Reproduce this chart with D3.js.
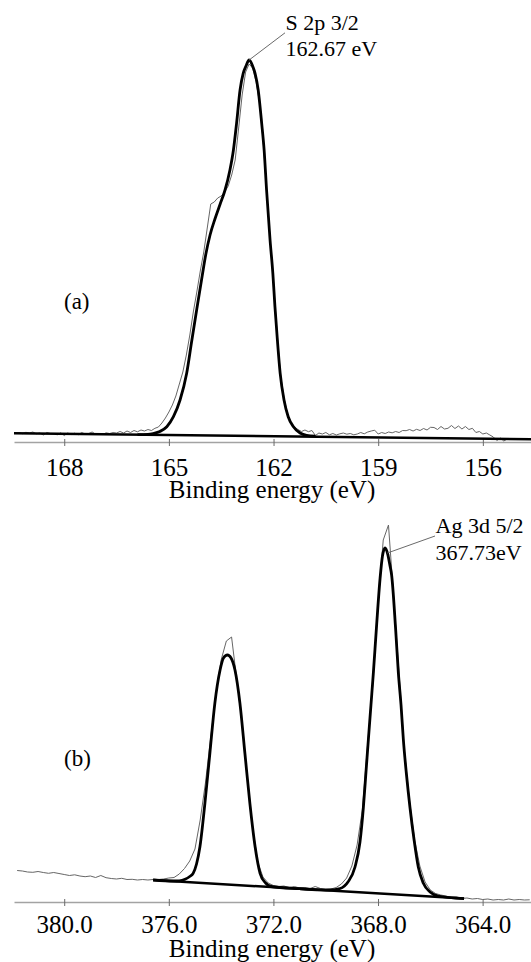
<!DOCTYPE html>
<html>
<head>
<meta charset="utf-8">
<script src="https://cdn.jsdelivr.net/npm/d3@7"></script>
<style>
  body { margin: 0; background: #fff; }
  svg { display: block; }
  svg text { font-family: "Liberation Serif", "Times New Roman", serif; }
</style>
</head>
<body>
<div class="layout"></div>
<script>
// ---- (a) S 2p region ----
// scan: start energy and step (eV), raw intensity (a.u.)
var sStart = 169.4, sStep = -0.1;
var sRaw = [
  8.5, 9.3, 8.3, 9.7, 9, 10, 8.2, 9, 7, 9.5,
  8.5, 8.2, 7.2, 9.2, 6.5, 9, 7.5, 8.8, 7.2, 9.5,
  8, 8.5, 10, 7.8, 8.2, 7.5, 9.2, 8.5, 9.5, 9,
  10.5, 9, 11, 9.5, 11.5, 10.2, 12, 11, 12.5, 11.5,
  13.7, 15, 19, 24, 30, 37, 46, 58, 70, 87,
  107, 130, 150, 171, 190, 214, 238, 240, 244, 246,
  250, 256, 267, 282, 314, 347, 370, 378, 374, 360,
  339, 302, 252, 204, 157, 110, 67, 44, 28, 19,
  15, 12.5, 10.5, 12, 10.3, 11.5, 6.5, 9, 8, 9.5,
  7.2, 8.5, 7, 8.2, 9, 7.8, 8.5, 7.2, 8, 9.5,
  8.2, 10, 11, 11.8, 8, 9.5, 8.5, 10, 9.2, 10.5,
  9.5, 11.5, 11.3, 12.5, 11, 12.7, 11.5, 13.5, 12, 14.7,
  14.5, 12.5, 15.5, 13, 13.7, 16.5, 13.5, 16, 13, 15.5,
  12.5, 13.7, 9.5, 10.5, 8, 9, 7, 5, 1.5, 4,
  1, 3, 2.7, 3.5, 2.5, 2.8, 3, 2.7, 2.7
];
// fitted envelope
var sFitE = [165.9, 165.6, 165.45, 165.26, 165.06, 164.87, 164.68, 164.49, 164.35, 164.20,
  164.06, 163.94, 163.82, 163.68, 163.53, 163.39, 163.25, 163.15, 163.06, 162.96,
  162.87, 162.79, 162.70, 162.60, 162.53, 162.44, 162.34, 162.27, 162.20, 162.10,
  162.02, 161.96, 161.89, 161.81, 161.70, 161.58, 161.43, 161.24, 161.05, 160.8];
var sFitI = [7.3, 7.6, 8.5, 10.5, 15.3, 25.3, 42, 68.7, 100, 133,
  163, 188, 207, 223, 238, 252, 272, 292, 318.7, 352,
  368.7, 376, 382, 376, 368.7, 352, 318.7, 292, 252, 202,
  168.7, 135.3, 102, 68.7, 42, 25.3, 15.3, 9, 6.6, 5.9];
var sBgE = [169.44, 154.62];
var sBgI = [8.7, 2.7];
var sDomain = [169.44, 154.62];
var sTicks = [168, 165, 162, 159, 156];
var sLabel = ["S 2p 3/2", "162.67 eV"];
var sPeakE = 162.70, sPeakI = 382;

// ---- (b) Ag 3d region ----
var aStart = 381.8, aStep = -0.2;
var aRaw = [
  31.5, 31, 30, 29.7, 30.5, 29.5, 28.7, 29.5, 28.5, 27.5,
  26.5, 27.2, 26, 25.3, 26, 24.5, 26.5, 24.3, 23.5, 23,
  23.7, 22.5, 22.7, 22, 22.5, 22, 22.5, 22.5, 23, 24,
  24.5, 28, 33.5, 41, 53, 82, 119, 164, 207, 242,
  261, 265, 222, 180, 126, 76, 40, 25, 19, 16.5,
  15.5, 16, 14.5, 15.5, 14, 14.5, 13.5, 15.5, 13.5, 12.5,
  13, 14.5, 18, 24, 36, 57, 92, 157, 217, 297,
  362, 377, 304, 230, 154, 102, 62, 36, 20, 12,
  8.5, 7, 6, 4.5, 5, 3.5, 4, 3, 3.5, 2.5,
  3, 2, 2.5, 2, 3, 2, 2.5, 2, 2.2
];
var aFitE = [376.60, 375.8, 375.6, 375.38, 375.2, 375.07, 374.94, 374.81, 374.62, 374.43,
  374.24, 374.04, 373.91, 373.76, 373.62, 373.47, 373.28, 373.09, 372.90, 372.70,
  372.51, 372.30, 372.09, 371.0, 370.2, 369.84, 369.45, 369.15, 368.88, 368.69,
  368.56, 368.46, 368.37, 368.27, 368.18, 368.06, 367.92, 367.83, 367.73, 367.64,
  367.54, 367.48, 367.33, 367.22, 367.12, 367.03, 366.91, 366.78, 366.62, 366.46,
  366.27, 366.01, 365.70, 364.71];
var aFitI = [22, 21, 21.2, 22.7, 25.5, 28.7, 38, 55.3, 98.7, 148.7,
  198.7, 232, 244, 247, 244, 232, 198.7, 148.7, 98.7, 55.3,
  28.7, 19, 15.5, 13.3, 12.2, 12, 13.5, 20, 35, 60,
  94.7, 130, 162, 197, 228.3, 274.3, 324, 346, 354, 349,
  336, 327, 274.3, 228.3, 197, 162, 127, 95, 62, 35,
  19, 10, 6, 3.4];
var aBgE = [376.60, 364.71];
var aBgI = [22, 3.4];
var aDomain = [381.92, 362.15];
var aTicks = [380, 376, 372, 368, 364];
var aLabel = ["Ag 3d 5/2", "367.73eV"];
var aPeakE = 367.64, aPeakI = 349;

var xTitle = "Binding energy (eV)";

var width = 531, height = 962;
var serif = "Liberation Serif, Times New Roman, serif";

var svg = d3.select(".layout").append("svg")
    .attr("width", width)
    .attr("height", height);

function pairs(es, is) {
  return es.map(function(e, i) { return [e, is[i]]; });
}

function scan(start, step, vals) {
  return vals.map(function(v, i) { return [+(start + i * step).toFixed(2), v]; });
}

function panel(p) {
  var x = d3.scaleLinear().domain(p.domain).range([14, 531]);
  var y = d3.scaleLinear().domain([0, 400]).range([p.axisY, p.axisY - 400]);

  var rawLine = d3.line()
      .x(function(d) { return x(d[0]); })
      .y(function(d) { return y(d[1]); });

  var fitLine = d3.line()
      .curve(d3.curveMonotoneX)
      .x(function(d) { return x(d[0]); })
      .y(function(d) { return y(d[1]); });

  var g = svg.append("g");

  // axis
  var axis = d3.axisBottom(x)
      .tickValues(p.ticks)
      .tickFormat(p.fmt)
      .tickSizeOuter(0)
      .tickSizeInner(4);

  var gx = g.append("g")
      .attr("transform", "translate(0," + p.axisY + ")")
      .call(axis)
      .attr("font-family", serif);
  gx.select(".domain").attr("stroke", "#a3a3a3").attr("stroke-width", 1.6);
  gx.selectAll(".tick line").attr("y1", -3).attr("stroke", "#6a6a6a");
  gx.selectAll(".tick text")
      .attr("y", p.tickBase)
      .attr("dy", null)
      .attr("fill", "#000")
      .style("font-size", "25px");

  g.append("text")
      .attr("x", 272)
      .attr("y", p.titleY)
      .attr("text-anchor", "middle")
      .style("font-size", "25px")
      .text(xTitle);

  // raw spectrum
  g.append("path")
      .datum(p.raw)
      .attr("fill", "none")
      .attr("stroke", "#666")
      .attr("stroke-width", 1)
      .attr("d", rawLine);

  // background
  g.append("path")
      .datum(p.bg)
      .attr("fill", "none")
      .attr("stroke", "#000")
      .attr("stroke-width", 2.5)
      .attr("d", rawLine);

  // fitted envelope
  g.append("path")
      .datum(p.fit)
      .attr("fill", "none")
      .attr("stroke", "#000")
      .attr("stroke-width", 2.8)
      .attr("stroke-linejoin", "round")
      .attr("d", fitLine);

  // peak label
  var lab = g.append("text")
      .attr("x", p.labX)
      .attr("y", p.labY)
      .style("font-size", "22px");
  lab.append("tspan").attr("x", p.labX).text(p.label[0]);
  lab.append("tspan").attr("x", p.labX).attr("dy", 26.5).text(p.label[1]);

  g.append("line")
      .attr("x1", p.labX - 0.5)
      .attr("y1", p.labY + 3)
      .attr("x2", x(p.peak[0]))
      .attr("y2", y(p.peak[1]))
      .attr("stroke", "#6a6a6a")
      .attr("stroke-width", 1);

  g.append("text")
      .attr("x", 64)
      .attr("y", p.tagY)
      .style("font-size", "23px")
      .text(p.tag);
}

panel({
  domain: sDomain,
  axisY: 442,
  ticks: sTicks,
  fmt: d3.format("d"),
  tickBase: 33.5,
  titleY: 498,
  raw: scan(sStart, sStep, sRaw),
  fit: pairs(sFitE, sFitI),
  bg: pairs(sBgE, sBgI),
  label: sLabel,
  peak: [sPeakE, sPeakI],
  labX: 285.5,
  labY: 29.8,
  tag: "(a)",
  tagY: 309
});

panel({
  domain: aDomain,
  axisY: 902,
  ticks: aTicks,
  fmt: d3.format(".1f"),
  tickBase: 30.5,
  titleY: 956.5,
  raw: scan(aStart, aStep, aRaw),
  fit: pairs(aFitE, aFitI),
  bg: pairs(aBgE, aBgI),
  label: aLabel,
  peak: [aPeakE, aPeakI],
  labX: 435.5,
  labY: 533,
  tag: "(b)",
  tagY: 766
});
</script>
</body>
</html>
